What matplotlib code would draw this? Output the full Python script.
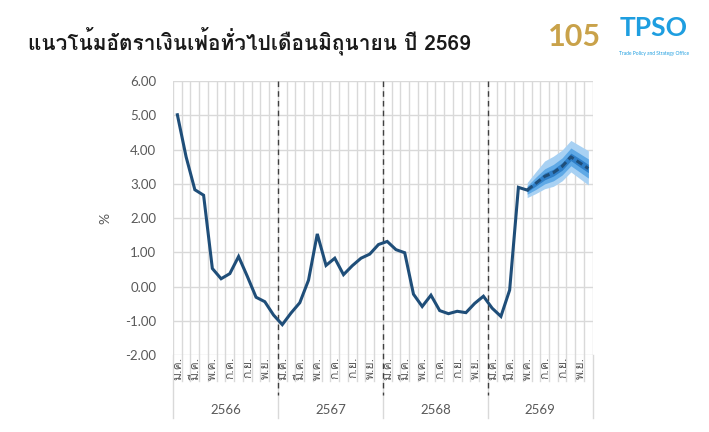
import matplotlib
matplotlib.use("Agg")
import matplotlib.pyplot as plt
import matplotlib.transforms as mtransforms
from matplotlib import font_manager
from matplotlib.ft2font import FT2Font
import numpy as np

# ---- data ----
years = ["2566", "2567", "2568", "2569"]
month_labels = ["ม.ค.", "มี.ค.", "พ.ค.", "ก.ค.", "ก.ย.", "พ.ย."]

# headline inflation, Jan 2566 .. May 2569 (%)
actual = [5.02, 3.79, 2.83, 2.67, 0.53, 0.23, 0.38, 0.88, 0.30, -0.31, -0.44, -0.83,
          -1.11, -0.77, -0.47, 0.19, 1.54, 0.62, 0.83, 0.35, 0.61, 0.83, 0.95, 1.23,
          1.32, 1.08, 0.99, -0.22, -0.58, -0.25, -0.70, -0.79, -0.72, -0.76, -0.49, -0.28,
          -0.63, -0.87, -0.10, 2.90, 2.82]
# forecast May .. Dec 2569
forecast = [2.82, 3.02, 3.22, 3.33, 3.51, 3.79, 3.62, 3.45]
outer_up = [0.22, 0.34, 0.45, 0.48, 0.48, 0.48, 0.50, 0.52]
outer_dn = [0.22, 0.30, 0.36, 0.40, 0.42, 0.44, 0.46, 0.48]
mid_hw = [0.12, 0.18, 0.22, 0.24, 0.25, 0.26, 0.27, 0.28]
inner_hw = [0.05, 0.08, 0.10, 0.10, 0.11, 0.11, 0.12, 0.12]

# ---- fonts ----
thai_font = None
for f in font_manager.fontManager.ttflist:
    try:
        if FT2Font(f.fname).get_char_index(ord("ก")):
            thai_font = f.name
            break
    except Exception:
        pass
thai_family = [thai_font, "DejaVu Sans"] if thai_font else ["DejaVu Sans"]
num_family = ["Lato", "DejaVu Sans"]
gray = "#595959"
navy = "#1f4e79"

fig = plt.figure(figsize=(7.09, 4.32), dpi=100)
ax = fig.add_axes([0.244, 0.178, 0.592, 0.634])

n_months = 12 * len(years)
x_act = np.arange(len(actual))
x_fc = np.arange(len(actual) - 1, len(actual) - 1 + len(forecast))
fc = np.array(forecast)

# fan bands
ax.fill_between(x_fc, fc - np.array(outer_dn), fc + np.array(outer_up),
                color="#a8d1f3", lw=0, zorder=3)
for hw, col in [(mid_hw, "#5fa9e6"), (inner_hw, "#2f7fc8")]:
    hw = np.array(hw)
    ax.fill_between(x_fc, fc - hw, fc + hw, color=col, lw=0, zorder=3)

ax.plot(x_act, actual, color=navy, lw=2.2, zorder=4, solid_joinstyle="miter")
ax.plot(x_fc, fc, color=navy, lw=2.2, ls=(0, (2.2, 1.2)), zorder=5)

ax.set_xlim(-0.5, n_months - 0.5)
ax.set_ylim(-2, 6)
ax.set_yticks(np.arange(-2, 7, 1))
ax.set_yticklabels([f"{v:.2f}" for v in np.arange(-2, 7, 1)], family=num_family,
                   fontsize=9.5, color=gray)
ax.set_ylabel("%", family=num_family, fontsize=10, color=gray, labelpad=10)

# grid lines
for y in range(-2, 7):
    ax.axhline(y, color="#d9d9d9", lw=1, zorder=1)
for k in range(n_months + 1):
    ax.axvline(k - 0.5, color="#d9d9d9", lw=1, zorder=1)
for spine in ax.spines.values():
    spine.set_visible(False)
ax.tick_params(axis="both", length=0, pad=12)
ax.set_xticks([])

# category axis (months + years)
trans = mtransforms.blended_transform_factory(ax.transData, ax.transAxes)
for k in range(n_months + 1):
    bottom = -0.23 if k % 12 == 0 else -0.095
    ax.plot([k - 0.5, k - 0.5], [0, bottom], transform=trans, color="#d9d9d9",
            lw=1, clip_on=False, zorder=1)
for i in range(n_months):
    if i % 2 == 0:
        ax.text(i + 0.1, -0.006, month_labels[(i % 12) // 2], transform=trans, rotation=90,
                ha="center", va="top", fontsize=8.8, color=gray, family=thai_family)
for j, yr in enumerate(years):
    ax.text(12 * j + 5.5, -0.2, yr, transform=trans, ha="center", va="center",
            fontsize=9.5, color=gray, family=num_family)

# year dividers
for j in range(1, len(years)):
    ax.plot([12 * j - 0.5] * 2, [1, -0.145], transform=trans, color="#404040", lw=1,
            ls=(0, (4, 3)), clip_on=False, zorder=2)

# title and logos
fig.text(0.04, 0.905, "แนวโน้มอัตราเงินเฟ้อทั่วไปเดือนมิถุนายน ปี 2569", fontsize=15,
         fontweight="bold", color="#1a1a1a", family=thai_family, va="center")
fig.text(0.81, 0.915, "105", fontsize=22, fontweight="bold", color="#c9a24a",
         family=num_family, va="center", ha="center")
fig.text(0.922, 0.935, "TPSO", fontsize=19, fontweight="bold", color="#1e9ee0",
         family=num_family, va="center", ha="center")
fig.text(0.922, 0.875, "Trade Policy and Strategy Office", fontsize=3.5,
         color="#1e9ee0", family=num_family, va="center", ha="center")

fig.savefig("out.png", dpi=100)
